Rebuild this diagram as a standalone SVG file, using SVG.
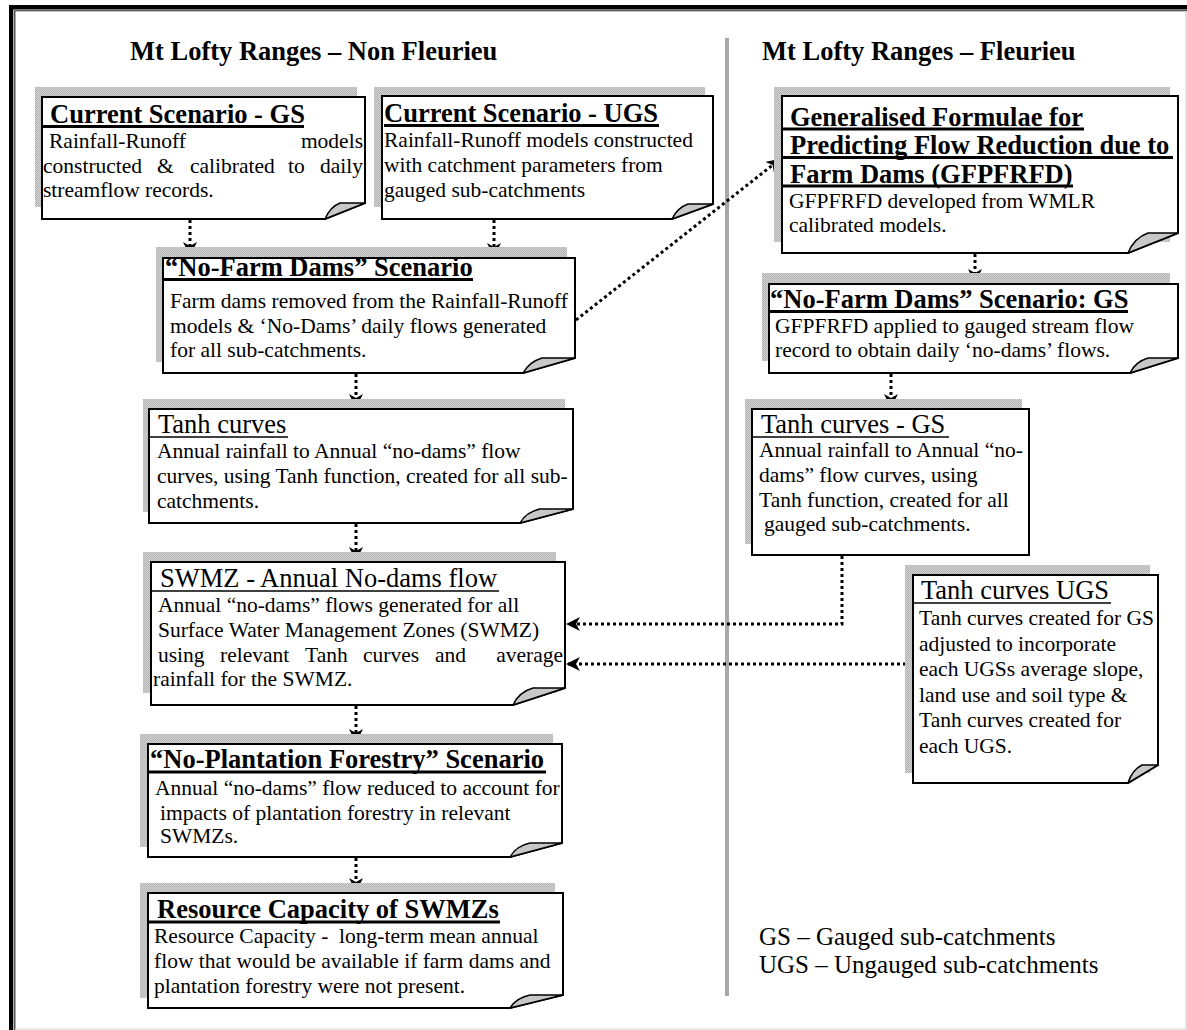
<svg xmlns="http://www.w3.org/2000/svg" width="1187" height="1030" viewBox="0 0 1187 1030">
<style>
.t{font-family:"Liberation Serif","Times New Roman",serif;fill:#000}
.h{font-size:26.5px;font-weight:bold}
.hr{font-size:26.5px}
.lg{font-size:25px}
.b{font-size:21.5px}
.sh{fill:url(#hatch)}
.box{fill:#fff;stroke:#000;stroke-width:2}
.fold{fill:#c8c8c8;stroke:#000;stroke-width:1.5;stroke-linejoin:round}
.ul{stroke:#000;stroke-width:3}
.ulr{stroke:#000;stroke-width:1.5}
.conn{fill:none;stroke:#000;stroke-width:3;stroke-dasharray:3 3;marker-end:url(#arr)}
</style>
<defs>
<pattern id="hatch" width="2" height="2" patternUnits="userSpaceOnUse">
<rect width="2" height="2" fill="#d2d2d2"/>
<rect width="1" height="1" fill="#b4b4b4"/>
<rect x="1" y="1" width="1" height="1" fill="#b4b4b4"/>
</pattern>
<marker id="arr" viewBox="0 0 14 14" markerWidth="14" markerHeight="14" refX="12" refY="7" orient="auto" markerUnits="userSpaceOnUse">
<path d="M0,0 L14,7 L0,14 L4,7 Z" fill="#000"/>
</marker>
</defs>
<rect width="1187" height="1030" fill="#fff"/>
<g id="frame">
<rect x="9" y="5" width="1178" height="4.5" fill="#000"/>
<rect x="9" y="5" width="4.3" height="1025" fill="#000"/>
<rect x="14" y="10" width="1173" height="1.3" fill="#555"/>
<rect x="14" y="10" width="1.5" height="1020" fill="#555"/>
<rect x="1185.5" y="11" width="1" height="1019" fill="#c8c8c8"/>
<rect x="15" y="1028.5" width="1172" height="1" fill="#d8d8d8"/>
</g>
<g id="titles">
<text class="t h" x="130" y="60">Mt Lofty Ranges – Non Fleurieu</text>
<text class="t h" x="762" y="60">Mt Lofty Ranges – Fleurieu</text>
<rect x="725" y="38" width="4" height="958" fill="#a8a8a8"/>
</g>
<g id="connectors">
<path class="conn" d="M190,220 V254"/>
<path class="conn" d="M494,220 V255"/>
<path class="conn" d="M576,320 L779,160"/>
<path class="conn" d="M975,254 V281"/>
<path class="conn" d="M356,374 V406"/>
<path class="conn" d="M891,374 V406"/>
<path class="conn" d="M356,524 V559"/>
<path class="conn" d="M842,556 V624 H568"/>
<path class="conn" d="M912,664 H568"/>
<path class="conn" d="M356,706 V741"/>
<path class="conn" d="M356,858 V890"/>
</g>
<g id="n-current-gs">
<rect class="sh" x="35" y="87" width="322" height="120"/>
<path class="box" d="M42,97 H365 V203 L325,219 H42 Z"/>
<path class="fold" d="M325,219 L365,203 H340 Q330,207 325,219 Z"/>
<text class="t h" x="50" y="123">Current Scenario - GS</text>
<line class="ul" x1="42" y1="126.5" x2="304" y2="126.5"/>
<text class="t b" x="49" y="148">Rainfall-Runoff</text>
<text class="t b" x="363" y="148" text-anchor="end">models</text>
<text class="t b" x="43" y="173">constructed</text>
<text class="t b" x="157" y="173">&amp;</text>
<text class="t b" x="190" y="173">calibrated</text>
<text class="t b" x="288" y="173">to</text>
<text class="t b" x="363" y="173" text-anchor="end">daily</text>
<text class="t b" x="43" y="197">streamflow records.</text>
</g>
<g id="n-current-ugs">
<rect class="sh" x="374" y="87" width="331" height="120"/>
<path class="box" d="M382,96 H713 V204 L672,219 H382 Z"/>
<path class="fold" d="M672,219 L713,204 H688 Q677,208 672,219 Z"/>
<text class="t h" x="384" y="122">Current Scenario - UGS</text>
<line class="ul" x1="384" y1="125.5" x2="659" y2="125.5"/>
<text class="t b" x="384" y="147">Rainfall-Runoff models constructed</text>
<text class="t b" x="384" y="172">with catchment parameters from</text>
<text class="t b" x="384" y="197">gauged sub-catchments</text>
</g>
<g id="n-nofarm">
<rect class="sh" x="156" y="247" width="411" height="115"/>
<path class="box" d="M163,258 H575 V358 L523,373 H163 Z"/>
<path class="fold" d="M523,373 L575,358 H542 Q529,362 523,373 Z"/>
<text class="t h" x="165" y="276">“No-Farm Dams” Scenario</text>
<line class="ul" x1="163" y1="279.5" x2="473" y2="279.5"/>
<text class="t b" x="170" y="308">Farm dams removed from the Rainfall-Runoff</text>
<text class="t b" x="170" y="333">models &amp; ‘No-Dams’ daily flows generated</text>
<text class="t b" x="170" y="357">for all sub-catchments.</text>
</g>
<g id="n-gfpfrfd">
<rect class="sh" x="774" y="87" width="396" height="155"/>
<path class="box" d="M782,96 H1178 V233 L1128,253 H782 Z"/>
<path class="fold" d="M1128,253 L1178,233 H1148 Q1134,238 1128,253 Z"/>
<text class="t h" x="790" y="125.5">Generalised Formulae for</text>
<line class="ul" x1="782" y1="129" x2="1084" y2="129"/>
<text class="t h" x="790" y="154">Predicting Flow Reduction due to</text>
<line class="ul" x1="782" y1="157.5" x2="1173" y2="157.5"/>
<text class="t h" x="790" y="182.5">Farm Dams (GFPFRFD)</text>
<line class="ul" x1="782" y1="186" x2="1073" y2="186"/>
<text class="t b" x="789" y="208">GFPFRFD developed from WMLR</text>
<text class="t b" x="789" y="232">calibrated models.</text>
</g>
<g id="n-nofarm-gs">
<rect class="sh" x="762" y="273" width="408" height="88"/>
<path class="box" d="M769,284 H1178 V358 L1130,373 H769 Z"/>
<path class="fold" d="M1130,373 L1178,358 H1148 Q1135,362 1130,373 Z"/>
<text class="t h" x="770" y="308">“No-Farm Dams” Scenario: GS</text>
<line class="ul" x1="769" y1="311.5" x2="1128" y2="311.5"/>
<text class="t b" x="775" y="333">GFPFRFD applied to gauged stream flow</text>
<text class="t b" x="775" y="357">record to obtain daily ‘no-dams’ flows.</text>
</g>
<g id="n-tanh">
<rect class="sh" x="143" y="399" width="422" height="113"/>
<path class="box" d="M149,409 H573 V509 L520,523 H149 Z"/>
<path class="fold" d="M520,523 L573,509 H540 Q526,512 520,523 Z"/>
<text class="t hr" x="158" y="433">Tanh curves</text>
<line class="ulr" x1="149" y1="437" x2="288" y2="437"/>
<text class="t b" x="157" y="458">Annual rainfall to Annual “no-dams” flow</text>
<text class="t b" x="157" y="483">curves, using Tanh function, created for all sub-</text>
<text class="t b" x="157" y="508">catchments.</text>
</g>
<g id="n-tanh-gs">
<rect class="sh" x="745" y="399" width="277" height="145"/>
<path class="box" d="M752,409 H1029 V555 H752 Z"/>
<text class="t hr" x="761" y="433">Tanh curves - GS</text>
<line class="ulr" x1="752" y1="437" x2="949" y2="437"/>
<text class="t b" x="759" y="457">Annual rainfall to Annual “no-</text>
<text class="t b" x="759" y="482">dams” flow curves, using</text>
<text class="t b" x="759" y="507">Tanh function, created for all</text>
<text class="t b" x="764" y="531">gauged sub-catchments.</text>
</g>
<g id="n-tanh-ugs">
<rect class="sh" x="905" y="565" width="245" height="208"/>
<path class="box" d="M913,575 H1158 V765 L1128,783 H913 Z"/>
<path class="fold" d="M1128,783 L1158,765 H1142 Q1132,770 1128,783 Z"/>
<text class="t hr" x="921" y="599">Tanh curves UGS</text>
<line class="ulr" x1="913" y1="603" x2="1111" y2="603"/>
<text class="t b" x="919" y="625">Tanh curves created for GS</text>
<text class="t b" x="919" y="651">adjusted to incorporate</text>
<text class="t b" x="919" y="676">each UGSs average slope,</text>
<text class="t b" x="919" y="702">land use and soil type &amp;</text>
<text class="t b" x="919" y="727">Tanh curves created for</text>
<text class="t b" x="919" y="753">each UGS.</text>
</g>
<g id="n-swmz">
<rect class="sh" x="143" y="552" width="413" height="141"/>
<path class="box" d="M151,562 H565 V688 L513,705 H151 Z"/>
<path class="fold" d="M513,705 L565,688 H533 Q519,692 513,705 Z"/>
<text class="t hr" x="160" y="587">SWMZ - Annual No-dams flow</text>
<line class="ulr" x1="151" y1="591" x2="499" y2="591"/>
<text class="t b" x="158" y="612">Annual “no-dams” flows generated for all</text>
<text class="t b" x="158" y="637">Surface Water Management Zones (SWMZ)</text>
<text class="t b" x="158" y="662">using</text>
<text class="t b" x="220" y="662">relevant</text>
<text class="t b" x="305" y="662">Tanh</text>
<text class="t b" x="363" y="662">curves</text>
<text class="t b" x="435" y="662">and</text>
<text class="t b" x="563" y="662" text-anchor="end">average</text>
<text class="t b" x="153" y="686">rainfall for the SWMZ.</text>
</g>
<g id="n-noplant">
<rect class="sh" x="140" y="734" width="413" height="113"/>
<path class="box" d="M148,744 H562 V843 L510,857 H148 Z"/>
<path class="fold" d="M510,857 L562,843 H530 Q516,846 510,857 Z"/>
<text class="t h" x="150" y="768">“No-Plantation Forestry” Scenario</text>
<line class="ul" x1="148" y1="772" x2="546" y2="772"/>
<text class="t b" x="155" y="795">Annual “no-dams” flow reduced to account for</text>
<text class="t b" x="160" y="820">impacts of plantation forestry in relevant</text>
<text class="t b" x="160" y="843">SWMZs.</text>
</g>
<g id="n-resource">
<rect class="sh" x="140" y="883" width="415" height="115"/>
<path class="box" d="M148,893 H563 V995 L510,1008 H148 Z"/>
<path class="fold" d="M510,1008 L563,995 H530 Q516,998 510,1008 Z"/>
<text class="t h" x="157" y="918">Resource Capacity of SWMZs</text>
<line class="ul" x1="148" y1="922" x2="500" y2="922"/>
<text class="t b" x="154" y="943" xml:space="preserve">Resource Capacity -  long-term mean annual</text>
<text class="t b" x="154" y="968">flow that would be available if farm dams and</text>
<text class="t b" x="154" y="993">plantation forestry were not present.</text>
</g>
<g id="legend">
<text class="t lg"><tspan x="759" y="945">GS – Gauged sub-catchments</tspan><tspan x="759" y="973">UGS – Ungauged sub-catchments</tspan></text>
</g>
</svg>
